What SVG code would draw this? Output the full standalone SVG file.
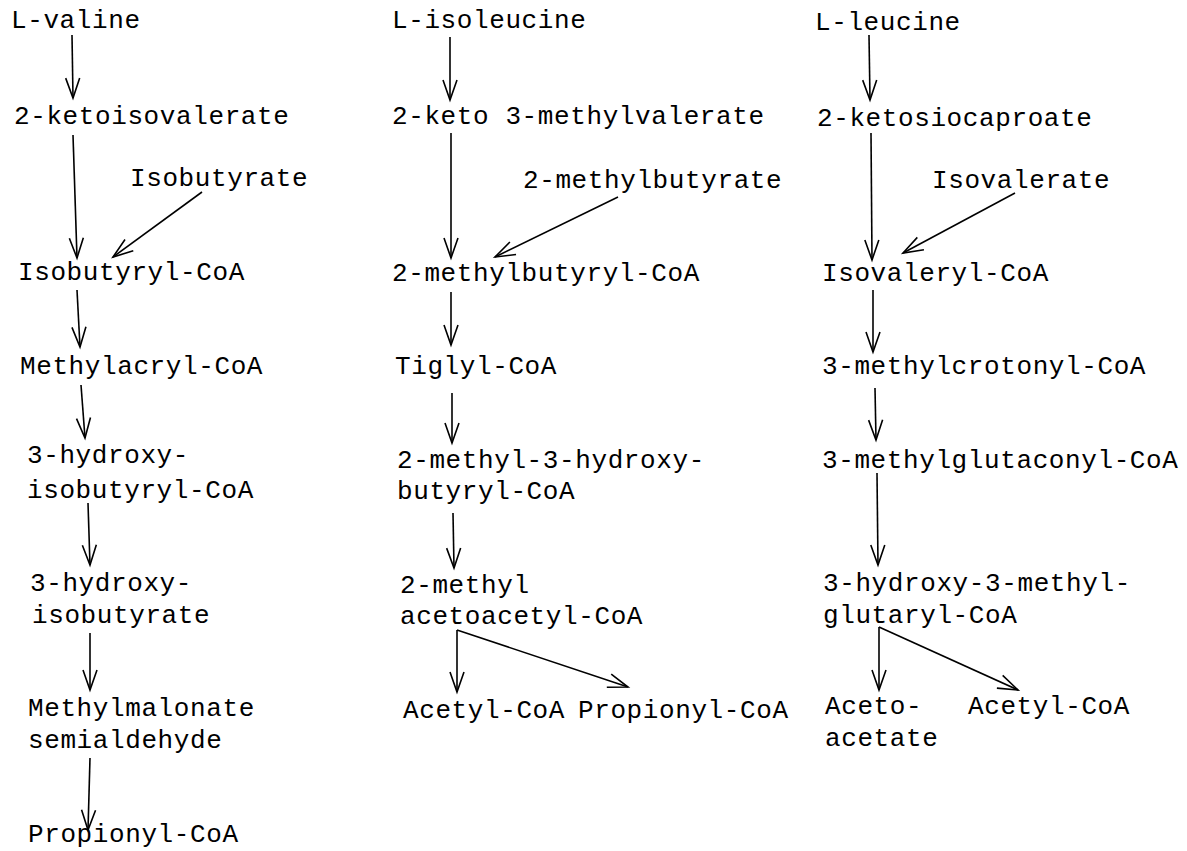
<svg xmlns="http://www.w3.org/2000/svg" width="1187" height="851" viewBox="0 0 1187 851">
<style>
text{font-family:"Liberation Mono","DejaVu Sans Mono",monospace;font-size:26px;letter-spacing:0.6px;fill:#000}
.c line{stroke:#000;stroke-width:1.6;fill:none;marker-end:url(#ah)}
</style>
<defs>
<marker id="ah" markerUnits="userSpaceOnUse" viewBox="-22 -10 24 20" refX="0" refY="0" markerWidth="24" markerHeight="20" orient="auto" overflow="visible">
<path d="M-20,-7 L0,0 L-20,7" fill="none" stroke="#000" stroke-width="1.6"/>
</marker>
</defs>
<rect width="1187" height="851" fill="#fff"/>
<g id="valine-pathway">
<g id="n-lvaline"><text x="11" y="28">L-valine</text></g>
<g id="n-2ketoisovalerate"><text x="14" y="124">2-ketoisovalerate</text></g>
<g id="n-isobutyrate"><text x="130" y="186">Isobutyrate</text></g>
<g id="n-isobutyrylcoa"><text x="18" y="280">Isobutyryl-CoA</text></g>
<g id="n-methylacryl-coa"><text x="20" y="374">Methylacryl-CoA</text></g>
<g id="n-3hibcoa"><text x="27" y="463">3-hydroxy-</text><text x="27" y="498">isobutyryl-CoA</text></g>
<g id="n-3hib"><text x="30" y="591">3-hydroxy-</text><text x="32" y="623">isobutyrate</text></g>
<g id="n-mmsa"><text x="28" y="716">Methylmalonate</text><text x="28" y="748">semialdehyde</text></g>
<g id="n-propionylcoa1"><text x="28" y="842">Propionyl-CoA</text></g>
</g>
<g id="isoleucine-pathway">
<g id="n-lisoleucine"><text x="392" y="28">L-isoleucine</text></g>
<g id="n-2keto3mv"><text x="392" y="124">2-keto 3-methylvalerate</text></g>
<g id="n-2methylbutyrate"><text x="523" y="188">2-methylbutyrate</text></g>
<g id="n-2mbcoa"><text x="392" y="281">2-methylbutyryl-CoA</text></g>
<g id="n-tiglylcoa"><text x="395" y="374">Tiglyl-CoA</text></g>
<g id="n-2m3hbcoa"><text x="397" y="468">2-methyl-3-hydroxy-</text><text x="397" y="499">butyryl-CoA</text></g>
<g id="n-2maacoa"><text x="400" y="593">2-methyl</text><text x="400" y="624">acetoacetyl-CoA</text></g>
<g id="n-acetylcoa1"><text x="403" y="718">Acetyl-CoA</text></g>
<g id="n-propionylcoa2"><text x="578" y="718">Propionyl-CoA</text></g>
</g>
<g id="leucine-pathway">
<g id="n-lleucine"><text x="815" y="30">L-leucine</text></g>
<g id="n-2ketoisocaproate"><text x="817" y="126">2-ketosiocaproate</text></g>
<g id="n-isovalerate"><text x="932" y="188">Isovalerate</text></g>
<g id="n-isovalerylcoa"><text x="822" y="281">Isovaleryl-CoA</text></g>
<g id="n-3mccoa"><text x="822" y="374">3-methylcrotonyl-CoA</text></g>
<g id="n-3mgcoa"><text x="822" y="468">3-methylglutaconyl-CoA</text></g>
<g id="n-hmgcoa"><text x="823" y="591">3-hydroxy-3-methyl-</text><text x="823" y="623">glutaryl-CoA</text></g>
<g id="n-acetoacetate"><text x="825" y="714">Aceto-</text><text x="825" y="746">acetate</text></g>
<g id="n-acetylcoa2"><text x="968" y="714">Acetyl-CoA</text></g>
</g>
<g id="connectors" class="c">
<line x1="72" y1="35" x2="73" y2="98"/>
<line x1="73" y1="135" x2="77" y2="258"/>
<line x1="202" y1="192" x2="113" y2="257"/>
<line x1="77" y1="290" x2="80" y2="347"/>
<line x1="81" y1="385" x2="85" y2="438"/>
<line x1="88" y1="503" x2="90" y2="565"/>
<line x1="90" y1="633" x2="90" y2="690"/>
<line x1="90" y1="758" x2="88" y2="830"/>
<line x1="450" y1="37" x2="450" y2="100"/>
<line x1="451" y1="133" x2="451" y2="258"/>
<line x1="618" y1="197" x2="495" y2="257"/>
<line x1="451" y1="292" x2="451" y2="345"/>
<line x1="452" y1="393" x2="452" y2="443"/>
<line x1="453" y1="513" x2="454" y2="568"/>
<line x1="457" y1="630" x2="457" y2="692"/>
<line x1="457" y1="630" x2="628" y2="687"/>
<line x1="869" y1="35" x2="870" y2="100"/>
<line x1="871" y1="133" x2="872" y2="260"/>
<line x1="1015" y1="193" x2="903" y2="253"/>
<line x1="873" y1="290" x2="873" y2="352"/>
<line x1="875" y1="388" x2="876" y2="440"/>
<line x1="877" y1="473" x2="878" y2="565"/>
<line x1="879" y1="627" x2="879" y2="690"/>
<line x1="879" y1="627" x2="1018" y2="690"/>
</g>
</svg>
